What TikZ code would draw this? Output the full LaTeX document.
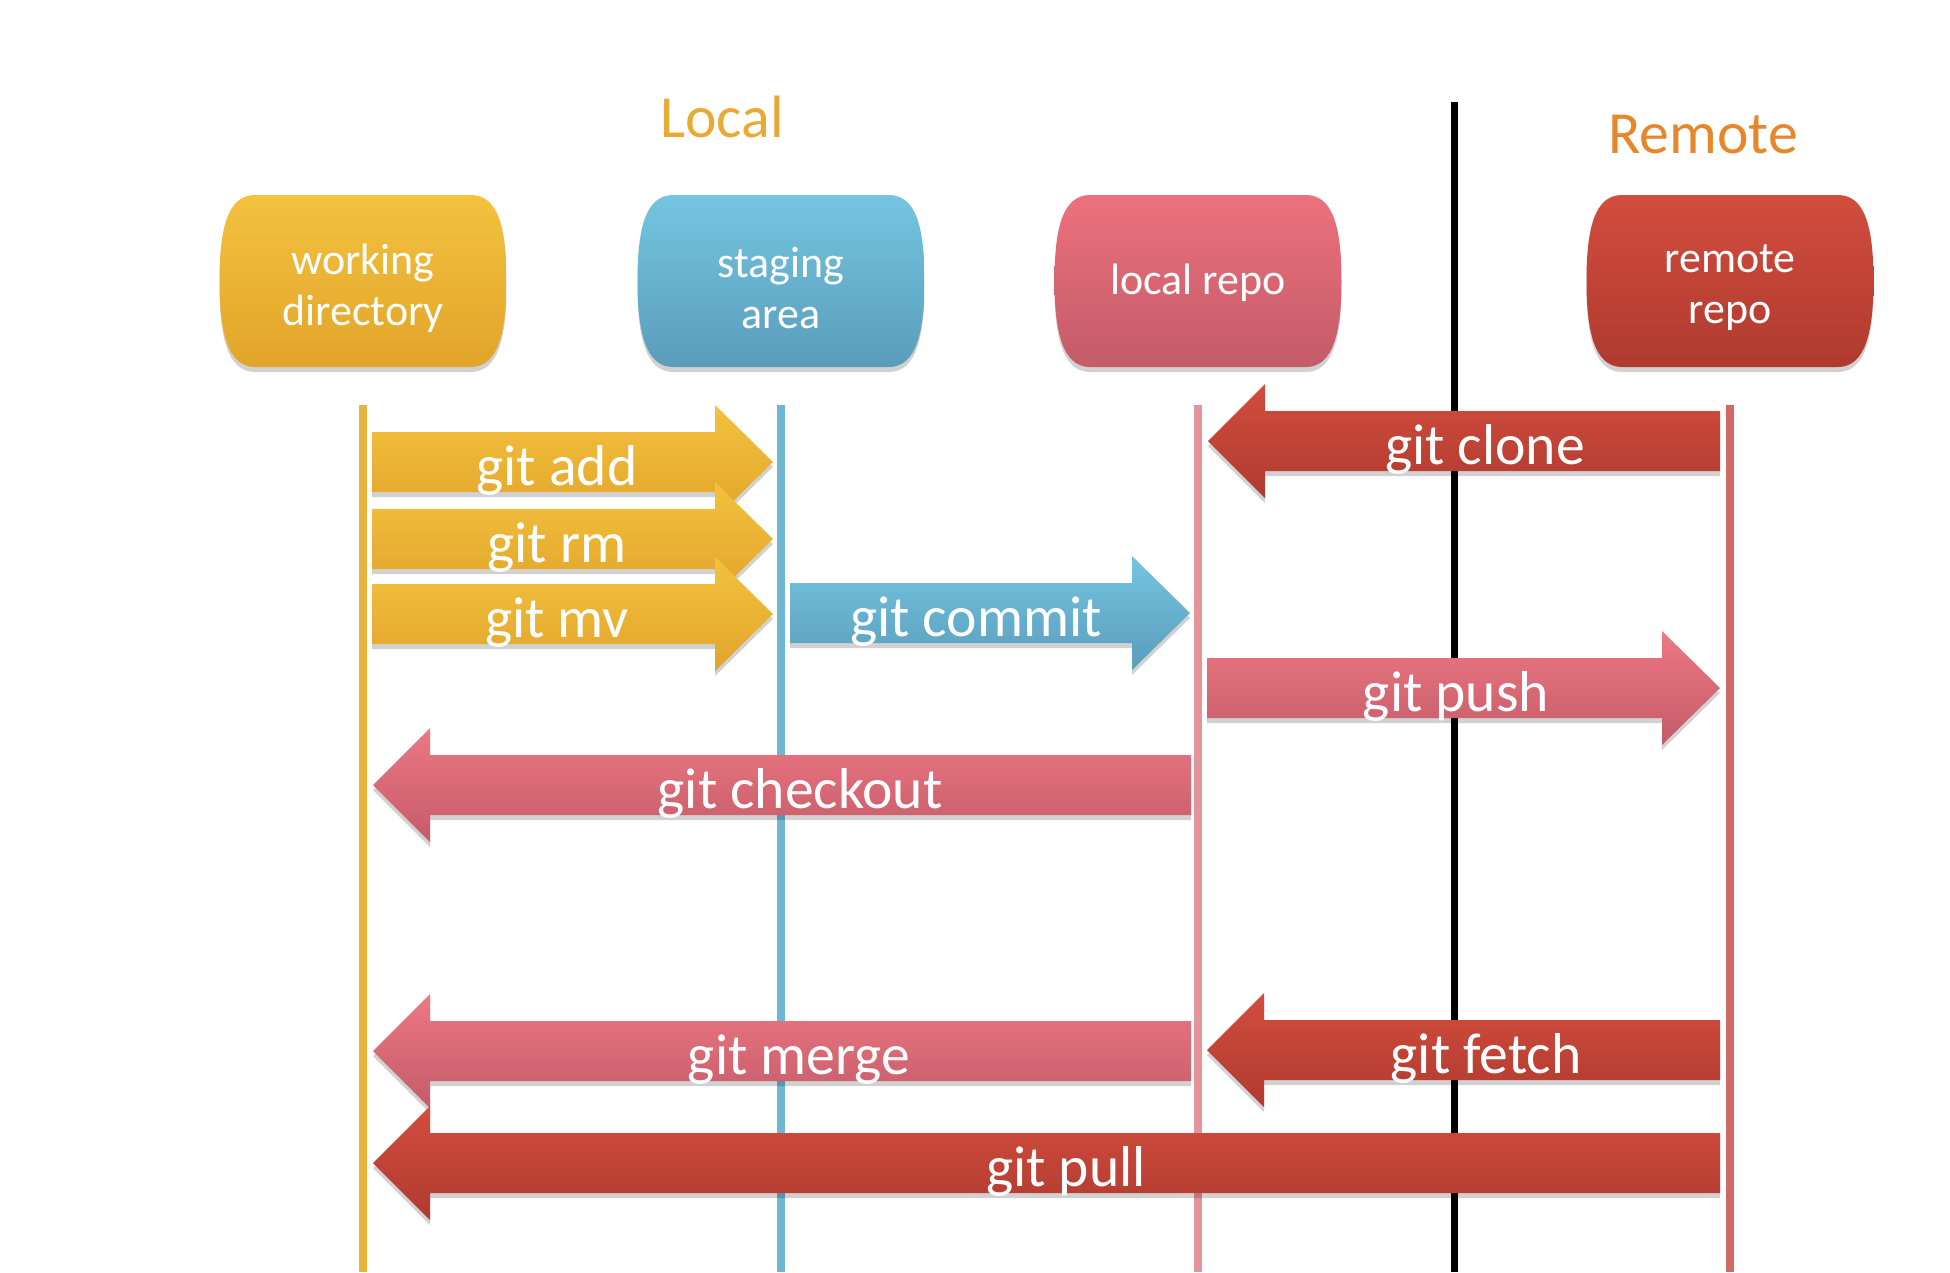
\documentclass[tikz,border=0pt]{standalone}
\usepackage{fontspec}
\setmainfont{Carlito}
\usetikzlibrary{shadows}
\definecolor{wdtop}{HTML}{F3C23E}
\definecolor{wdbot}{HTML}{E2A42A}
\definecolor{satop}{HTML}{74C5E1}
\definecolor{sabot}{HTML}{5A9DBB}
\definecolor{lrtop}{HTML}{EC717D}
\definecolor{lrbot}{HTML}{C45B68}
\definecolor{rrtop}{HTML}{D24D3D}
\definecolor{rrbot}{HTML}{AF3A2F}
\definecolor{yline}{HTML}{E9B43C}
\definecolor{bline}{HTML}{6EB7D3}
\definecolor{pline}{HTML}{E5929A}
\definecolor{rline}{HTML}{CF6A66}
\definecolor{locorange}{HTML}{E9A935}
\definecolor{remorange}{HTML}{E8862C}
\begin{document}
\begin{tikzpicture}[
  shad/.style={drop shadow={shadow xshift=0pt,shadow yshift=-0.05cm,opacity=0.18,fill=black}},
  yelarr/.style={shad,top color=wdtop,bottom color=wdbot},
  bluarr/.style={shad,top color=satop,bottom color=sabot},
  pnkarr/.style={shad,top color=lrtop!95!white,bottom color=lrbot},
  redarr/.style={shad,top color=rrtop,bottom color=rrbot},
  box/.style={text=white,align=center,font=\fontsize{12.5}{14.5}\selectfont},
  lbl/.style={text=white,anchor=base,font=\fontsize{16.4}{19}\selectfont},
  title/.style={font=\fontsize{17}{20}\selectfont},
  life/.style={line width=0.08cm},
  divider/.style={line width=0.07cm,black}]
\useasboundingbox (0,0) rectangle (19.5,-12.72);
% the four boxes
\foreach \x/\tc/\bc in {3.63/wdtop/wdbot,7.81/satop/sabot,11.98/lrtop/lrbot,17.30/rrtop/rrbot}
  \path[shad,top color=\tc,bottom color=\bc] (\x-1.08,-1.95) -- (\x+1.08,-1.95)
    .. controls (\x+1.36,-1.95) and (\x+1.435,-2.30) .. (\x+1.435,-2.81)
    .. controls (\x+1.435,-3.30) and (\x+1.36,-3.67) .. (\x+1.08,-3.67) -- (\x-1.08,-3.67)
    .. controls (\x-1.36,-3.67) and (\x-1.435,-3.30) .. (\x-1.435,-2.81)
    .. controls (\x-1.435,-2.30) and (\x-1.36,-1.95) .. (\x-1.08,-1.95) -- cycle;
\node[box] (wd) at (3.63,-2.88) {working\\directory};
\node[box] (sa) at (7.81,-2.88) {staging\\area};
\node[box] (lr) at (11.98,-2.83) {local repo};
\node[box] (rr) at (17.30,-2.88) {remote\\repo};
\node[title,text=locorange] (local) at (7.22,-1.17) {Local};
\node[title,text=remorange] (remote) at (17.03,-1.35) {Remote};
% life lines
\draw[life,yline] (wd |- 0,-4.05) -- (wd |- 0,-12.72);
\draw[life,bline] (sa |- 0,-4.05) -- (sa |- 0,-12.72);
\draw[life,pline] (lr |- 0,-4.05) -- (lr |- 0,-12.72);
\draw[life,rline] (rr |- 0,-4.05) -- (rr |- 0,-12.72);
\draw[divider] (14.54,-1.02) -- (14.54,-12.72);
% arrows to the right
\foreach \ya/\xa/\xb/\sty in {-4.62/3.72/7.73/yelarr,-5.39/3.72/7.73/yelarr,-6.14/3.72/7.73/yelarr,-6.13/7.90/11.90/bluarr,-6.88/12.07/17.20/pnkarr}
  \path[\sty] (\xa,\ya+0.30) -- (\xb-0.58,\ya+0.30) -- (\xb-0.58,\ya+0.57) -- (\xb,\ya)
    -- (\xb-0.58,\ya-0.57) -- (\xb-0.58,\ya-0.30) -- (\xa,\ya-0.30) -- cycle;
% arrows to the left
\foreach \ya/\xa/\xb/\sty in {-4.41/12.08/17.20/redarr,-7.85/3.73/11.91/pnkarr,-10.51/3.73/11.91/pnkarr,-10.50/12.07/17.20/redarr,-11.63/3.73/17.20/redarr}
  \path[\sty] (\xb,\ya+0.30) -- (\xa+0.57,\ya+0.30) -- (\xa+0.57,\ya+0.57) -- (\xa,\ya)
    -- (\xa+0.57,\ya-0.57) -- (\xa+0.57,\ya-0.30) -- (\xb,\ya-0.30) -- cycle;
\node[lbl] (add) at (5.57,-4.855) {git add};
\node[lbl] (rm) at (5.57,-5.625) {git rm};
\node[lbl] (mv) at (5.57,-6.375) {git mv};
\node[lbl] (commit) at (9.76,-6.365) {git commit};
\node[lbl] (clone) at (14.85,-4.645) {git clone};
\node[lbl] (push) at (14.56,-7.115) {git push};
\node[lbl] (checkout) at (8.00,-8.085) {git checkout};
\node[lbl] (merge) at (7.99,-10.745) {git merge};
\node[lbl] (fetch) at (14.86,-10.735) {git fetch};
\node[lbl] (pull) at (10.66,-11.865) {git pull};
\end{tikzpicture}
\end{document}
